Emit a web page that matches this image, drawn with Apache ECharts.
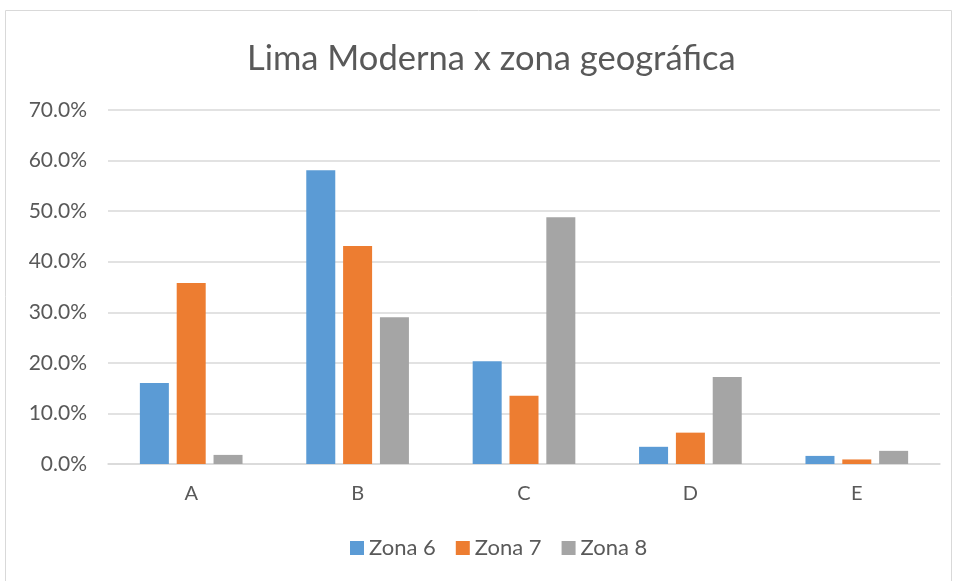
<!DOCTYPE html>
<html>
<head>
<meta charset="utf-8">
<script src="https://cdn.jsdelivr.net/npm/echarts@6/dist/echarts.min.js"></script>
<style>
	html, body { margin: 0; padding: 0; background: #fff; }
	#chart { width: 957px; height: 581px; }
</style>
</head>
<body>
<div id="chart"></div>
<script>
	// categorías y valores (%)
	var categories = ['A', 'B', 'C', 'D', 'E'];
	var zona6 = [16.0, 58.1, 20.3, 3.4, 1.6];
	var zona7 = [35.8, 43.1, 13.5, 6.2, 0.9];
	var zona8 = [1.8, 29.0, 48.8, 17.2, 2.6];
	var seriesNames = ['Zona 6', 'Zona 7', 'Zona 8'];
	var colors = ['#5b9bd5', '#ed7d31', '#a5a5a5'];

	var chart = echarts.init(document.getElementById('chart'));
	var font = 'Lato, "Liberation Sans", sans-serif';

	function bar(name, data, color) {
		return {
			name: name,
			type: 'bar',
			data: data,
			barWidth: 29,
			barGap: '27%',
			itemStyle: { color: color },
			emphasis: { disabled: true }
		};
	}

	var option = {
		animation: false,
		color: colors,
		textStyle: { fontFamily: font },
		title: {
			text: 'Lima Moderna x zona geográfica',
			left: 242,
			top: 36,
			textStyle: { fontSize: 34.5, fontWeight: 'normal', color: '#595959', fontFamily: font }
		},
		graphic: [{
			type: 'rect',
			shape: { x: 5.5, y: 10.5, width: 946, height: 575 },
			style: { fill: 'none', stroke: '#d9d9d9', lineWidth: 1 },
			silent: true
		}],
		legend: {
			data: seriesNames,
			bottom: 17,
			left: 345,
			itemWidth: 14,
			itemHeight: 14,
			itemGap: 20,
			icon: 'rect',
			textStyle: { fontSize: 22, color: '#595959', fontFamily: font }
		},
		grid: {
			left: 108,
			right: 17,
			top: 110,
			bottom: 117
		},
		xAxis: {
			type: 'category',
			data: categories,
			axisTick: { show: false },
			axisLine: { lineStyle: { color: '#d9d9d9', width: 1.5 } },
			axisLabel: { fontSize: 20, color: '#595959', margin: 20, fontFamily: font }
		},
		yAxis: {
			type: 'value',
			min: 0,
			max: 70,
			interval: 10,
			axisLine: { show: false },
			axisTick: { show: false },
			splitLine: { lineStyle: { color: '#d9d9d9', width: 1.5 } },
			axisLabel: {
				fontSize: 21,
				color: '#595959',
				margin: 21,
				fontFamily: font,
				formatter: function (v) { return v.toFixed(1) + '%'; }
			}
		},
		series: [
			bar(seriesNames[0], zona6, colors[0]),
			bar(seriesNames[1], zona7, colors[1]),
			bar(seriesNames[2], zona8, colors[2])
		]
	};
	chart.setOption(option);
</script>
</body>
</html>
